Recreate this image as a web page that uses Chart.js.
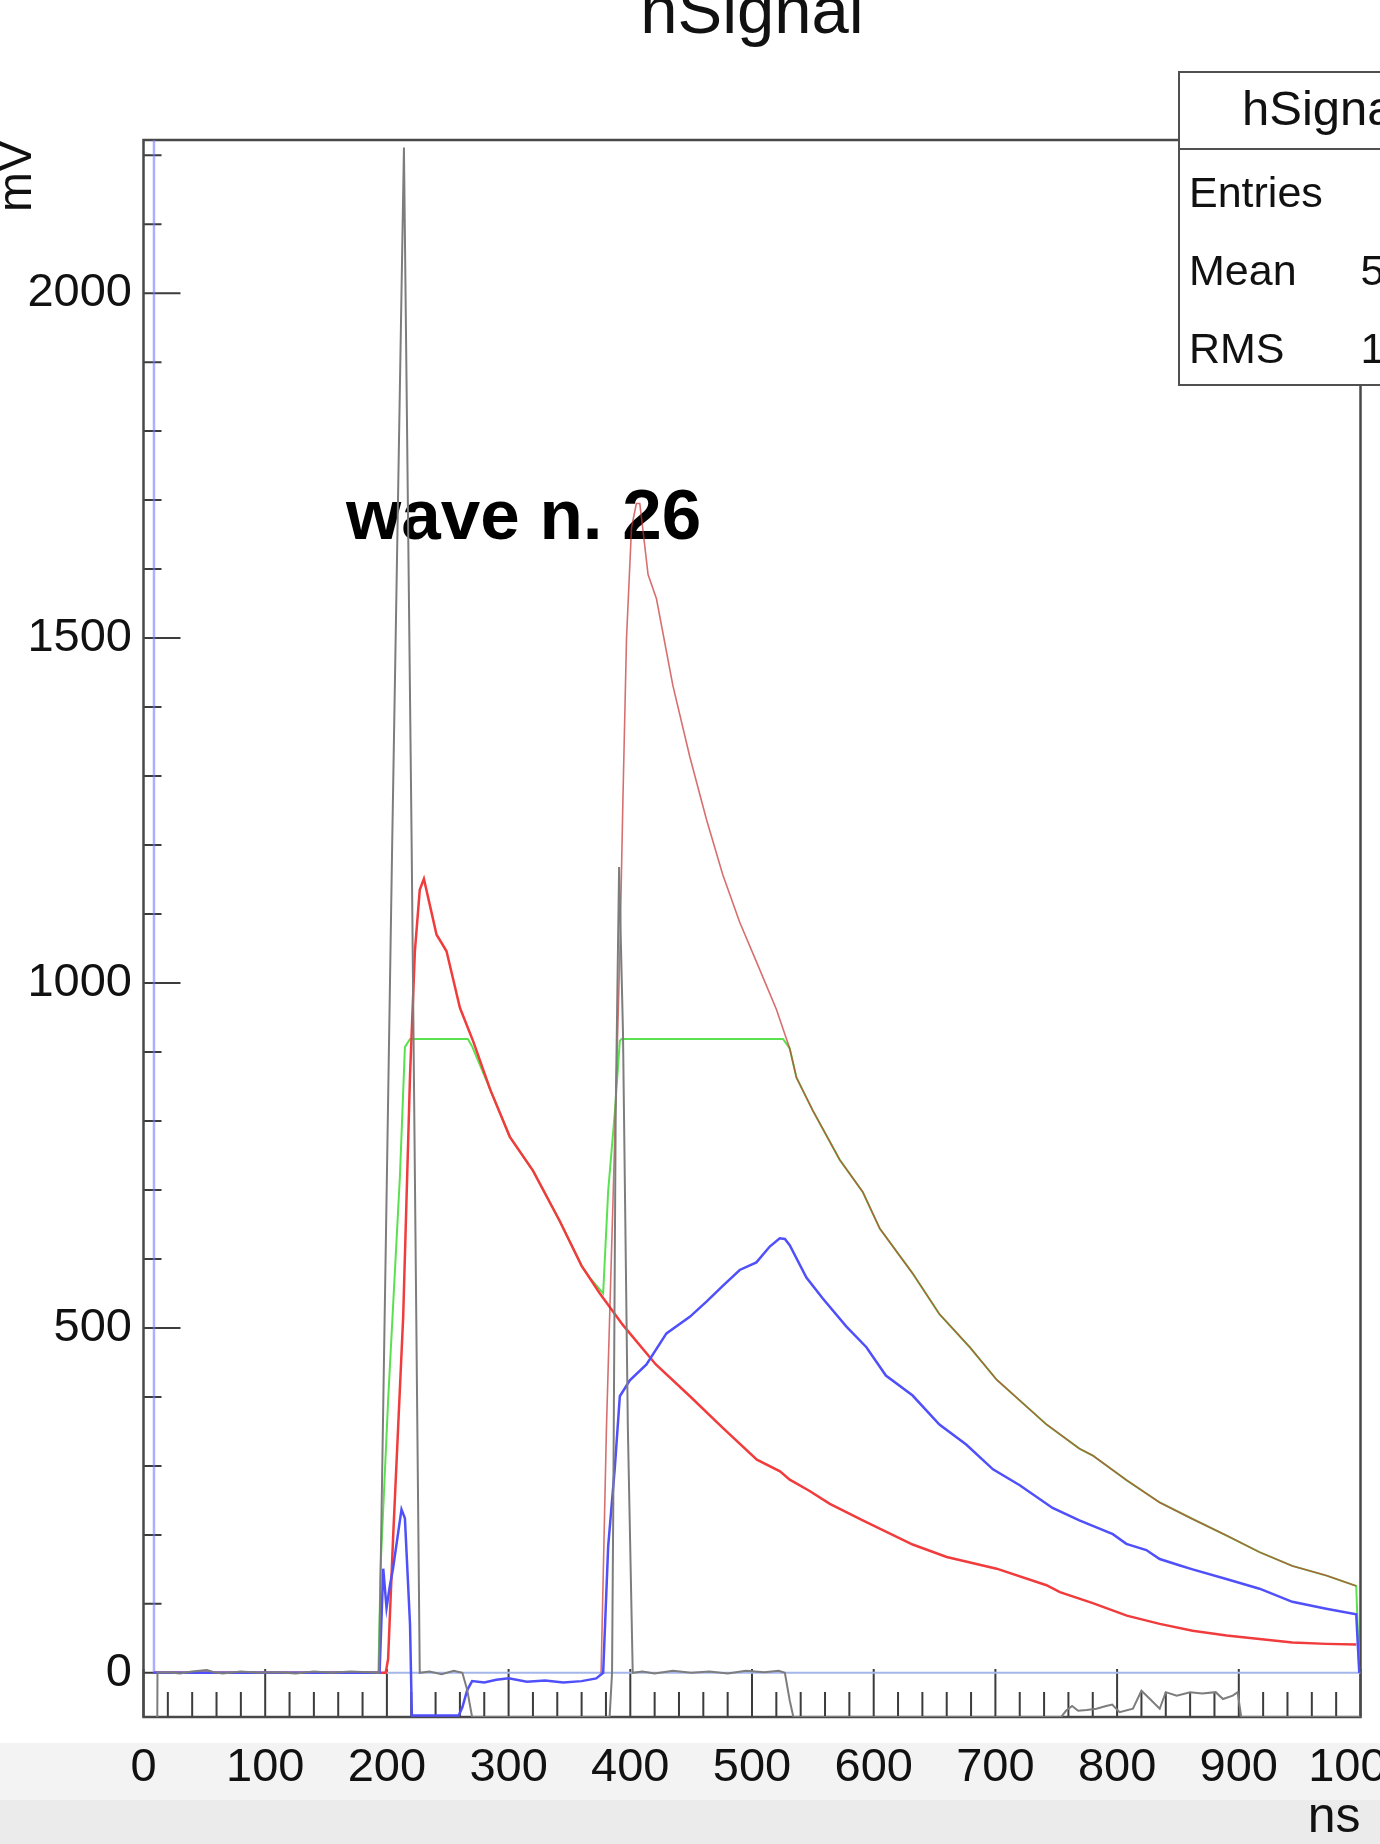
<!DOCTYPE html>
<html lang="en">
<head>
<meta charset="UTF-8">
<title>hSignal</title>
<script src="https://cdn.jsdelivr.net/npm/chart.js@4.4.1/dist/chart.umd.min.js"></script>
<style>
  body { margin: 0; background: #fff; }
  canvas { display: block; }
</style>
</head>
<body>
<canvas id="myChart" width="1380" height="1844"></canvas>
<script>
// [time ns, amplitude mV]
const grayPts = [[0,-200],[11,-200],[11.5,0],[20,1],[30,-1],[40,2],[52,4],[58,1],[65,-1],[80,2],[95,0],[110,1],[125,-1],[140,2],[155,0],[170,2],[185,1],[193.5,0],[204.4,1208],[214,2211],[220.3,1208],[227,0],[235,2],[245,-2],[255,3],[262,0],[266,-25],[270,-64],[383,-64],[385,0],[386,240],[388,813],[390.8,1168],[394,927],[398,355],[402,0],[410,2],[420,-1],[435,3],[450,0],[465,2],[480,-1],[495,3],[510,1],[522,3],[527,0],[531,-40],[534,-64],[754,-64],[758,-55],[763,-48],[768,-55],[775,-54],[783,-52],[791,-48],[796,-46],[802,-57],[813,-52],[820,-26],[827,-38],[835,-52],[840,-28],[849,-33],[860,-28],[870,-30],[881,-28],[887,-38],[895,-33],[899,-28],[902,-64],[1000,-64]];

const bluePts = [[8.6,3000],[8.6,0],[194,0],[197,151],[199.7,94],[202.5,127],[205,151],[212,237],[214.8,224],[219,70],[220.5,-62],[259,-62],[262,-50],[266,-25],[270,-12],[280,-14],[290,-10],[300,-8],[315,-13],[330,-11],[345,-14],[360,-12],[372,-8],[377.7,0],[381.8,183],[387.3,298],[391.4,401],[399.6,424],[413.3,447],[429.7,492],[448.9,516],[462.6,538],[476,561],[489.9,584],[503.6,595],[514.6,618],[522.8,630],[527,629],[531,620],[544.7,573],[558,543],[577.6,502],[594,472],[610,431],[632,402],[654,360],[676,331],[698,295],[720,272],[747,239],[769,221],[780,213],[796.5,201],[807.6,187],[824,178],[835,165],[851,156],[862,150],[889.7,136],[917,122],[944,103],[971.8,93],[996.5,85],[999,0]];

const redAPts = [[8.6,0],[199,0],[201,20],[205,192],[213.4,517],[219,866],[223,1046],[227,1135],[230.4,1151],[236.7,1102],[240.8,1070],[245,1058],[249,1046],[260,964],[271,915],[285,845],[301,777],[320,728],[342,655],[360,590],[375,550],[394,504],[421,447],[449,401],[476,355],[504,309],[523,292],[531,280],[547,264],[564,245],[591,221],[632,186],[660,168],[701,151],[742,127],[753,117],[780,101],[808,83],[835,71],[862,61],[890,54],[917,49],[944,44],[972,42],[996.5,41]];

const redBPts = [[376,0],[380.4,355],[386,698],[391.4,1042],[394,1271],[396.9,1500],[401,1660],[405,1695],[407.8,1695],[410.5,1655],[414.6,1592],[421.5,1557],[435,1431],[448.9,1328],[462.6,1237],[476,1157],[489.9,1088],[503.6,1031],[520,962],[531,905],[536.5,863],[550,815],[572,744],[591,697],[605,644],[632,579],[654,520],[679,472],[701,425],[742,360],[769,325],[780,315],[808,279],[835,247],[862,223],[890,199],[917,175],[944,155],[972,141],[996.5,126]];

const greenPts = [[8.6,0],[193,0],[195,160],[201,395],[210.7,720],[214.8,907],[219,919],[266.5,919],[270,908],[285,845],[301,777],[320,728],[342,655],[360,590],[367,572],[377.7,550],[381.8,698],[387.3,813],[391.4,916],[392.8,919],[525.5,919],[531,905],[536.5,863],[550,815],[572,744],[591,697],[605,644],[632,579],[654,520],[679,472],[701,425],[742,360],[769,325],[780,315],[808,279],[835,247],[862,223],[890,199],[917,175],[944,155],[972,141],[996.5,126],[999,0]];

const zeroPts = [[8.6,0],[1000,0]];

const yLabelValues = [0, 500, 1000, 1500, 2000];
const statNames = ['Entries', 'Mean', 'RMS'];
const statValues = ['100', '529.4', '178.6'];

const FONT = "'Liberation Sans', Arial, Helvetica, sans-serif";

function pts(list) {
  return list.map(p => ({x: p[0], y: p[1]}));
}

// ROOT-like frame with inside ticks
const frameTicks = {
  id: 'frameTicks',
  beforeDraw(chart) {
    const ctx = chart.ctx;
    ctx.save();
    ctx.fillStyle = '#ffffff';
    ctx.fillRect(0, 0, chart.width, chart.height);
    ctx.fillStyle = '#f3f3f3';
    ctx.fillRect(0, 1743, chart.width, 57);
    ctx.fillStyle = '#ebebeb';
    ctx.fillRect(0, 1800, chart.width, 44);
    ctx.restore();
  },
  beforeDatasetsDraw(chart) {
    const {ctx, chartArea: a, scales: {x, y}} = chart;
    ctx.save();
    // label inside the pad, lines go over it
    ctx.fillStyle = '#000';
    ctx.font = 'bold 71px ' + FONT;
    ctx.textAlign = 'left';
    ctx.textBaseline = 'alphabetic';
    ctx.fillText('wave n. 26', 346, 539);

    ctx.strokeStyle = '#3c3c3c';
    ctx.lineWidth = 2;
    ctx.beginPath();
    for (let v = 0; v <= 1000; v += 20) {
      const px = x.getPixelForValue(v);
      const len = v % 100 === 0 ? 48 : 25;
      ctx.moveTo(px, a.bottom);
      ctx.lineTo(px, a.bottom - len);
    }
    for (let v = 0; v <= 2200; v += 100) {
      const py = y.getPixelForValue(v);
      const len = v % 500 === 0 ? 37 : 18;
      ctx.moveTo(a.left, py);
      ctx.lineTo(a.left + len, py);
    }
    ctx.stroke();
    ctx.lineWidth = 2.5;
    ctx.strokeStyle = '#484848';
    ctx.strokeRect(a.left, a.top, a.right - a.left, a.bottom - a.top);
    ctx.restore();
  },
  afterDraw(chart) {
    const ctx = chart.ctx;
    ctx.save();
    ctx.fillStyle = '#111';
    ctx.textBaseline = 'alphabetic';
    ctx.font = '67px ' + FONT;
    ctx.textAlign = 'center';
    ctx.fillText('hSignal', 752, 33);

    // stats box
    ctx.fillStyle = '#fff';
    ctx.fillRect(1179, 72, 300, 313);
    ctx.strokeStyle = '#505050';
    ctx.lineWidth = 2;
    ctx.strokeRect(1179, 72, 300, 313);
    ctx.beginPath();
    ctx.moveTo(1179, 149);
    ctx.lineTo(1479, 149);
    ctx.stroke();

    ctx.fillStyle = '#111';
    ctx.font = '49px ' + FONT;
    ctx.textAlign = 'left';
    ctx.fillText('hSignal', 1242, 125);
    ctx.font = '43px ' + FONT;
    statNames.forEach((name, i) => {
      const base = 207 + i * 78;
      ctx.textAlign = 'left';
      ctx.fillText(name, 1189, base);
      ctx.textAlign = 'right';
      ctx.fillText(statValues[i], 1468, base);
    });
    ctx.restore();
  }
};

new Chart("myChart", {
  type: "line",
  data: {
    datasets: [
      { label: 'raw', data: pts(grayPts), borderColor: 'rgb(125,125,125)', borderWidth: 2 },
      {
        label: 'blue', data: pts(bluePts), borderColor: 'rgb(80,80,250)', borderWidth: 2.5,
        segment: { borderColor: c => c.p0DataIndex === 0 ? 'rgba(120,120,255,0.6)' : undefined }
      },
      { label: 'red2', data: pts(redBPts), borderColor: 'rgba(200,50,50,0.7)', borderWidth: 1.6 },
      { label: 'red1', data: pts(redAPts), borderColor: 'rgb(240,60,60)', borderWidth: 2.5 },
      { label: 'green', data: pts(greenPts), borderColor: 'rgb(90,225,80)', borderWidth: 2 },
      { label: 'zero', data: pts(zeroPts), borderColor: 'rgb(165,182,235)', borderWidth: 2 }
    ]
  },
  options: {
    responsive: false,
    animation: false,
    events: [],
    layout: { padding: { left: 0, right: 19.5, top: 140, bottom: 0 } },
    elements: { point: { radius: 0 }, line: { tension: 0, fill: false } },
    plugins: { legend: { display: false }, tooltip: { enabled: false } },
    scales: {
      x: {
        type: 'linear', min: 0, max: 1000,
        grid: { display: false, drawTicks: false },
        border: { display: false },
        ticks: {
          stepSize: 100, autoSkip: false, maxRotation: 0, padding: 23,
          color: '#111', font: { size: 47, family: FONT },
          callback: v => String(v)
        },
        title: {
          display: true, text: 'ns', align: 'end', color: '#111',
          font: { size: 50, family: FONT, lineHeight: 1 },
          padding: { top: 0, bottom: 1 }
        },
        afterFit: s => { s.height = 127; s.paddingLeft = 0; s.paddingRight = 0; }
      },
      y: {
        type: 'linear', min: -64, max: 2222,
        grid: { display: false, drawTicks: false },
        border: { display: false },
        afterBuildTicks: s => { s.ticks = yLabelValues.map(v => ({ value: v })); },
        ticks: {
          padding: 11.5, color: '#111', font: { size: 47, family: FONT },
          callback: v => String(v)
        },
        title: {
          display: true, text: 'mV', align: 'end', color: '#111',
          font: { size: 48, family: FONT, lineHeight: 0.76 },
          padding: 0
        },
        afterFit: s => { s.width = 143.5; s.paddingTop = 0; s.paddingBottom = 0; }
      }
    }
  },
  plugins: [frameTicks]
});
</script>
</body>
</html>
